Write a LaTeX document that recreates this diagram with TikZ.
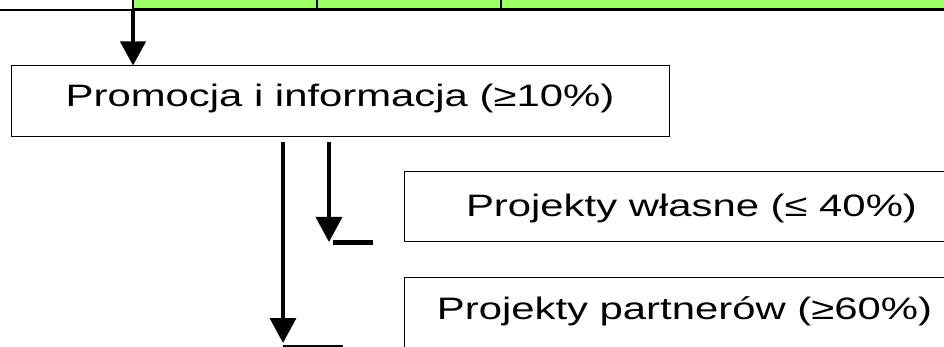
\documentclass[tikz,border=0pt]{standalone}
\usepackage{fontspec}
\setmainfont{Liberation Sans}[FakeStretch=1.35]
\usetikzlibrary{arrows.meta,positioning}
\definecolor{cellgreen}{HTML}{9CFF66}

\begin{document}
\begin{tikzpicture}[x=1pt, y=-1pt,
    box/.style={draw, line width=1pt, inner sep=0pt, font=\fontsize{31}{36}\selectfont},
    bigarrow/.style={line width=3.5pt, -{Triangle[length=25pt,width=26pt]}},
    bar/.style={line width=5pt}]
        \useasboundingbox (0,0) rectangle (944,347);
        \clip (0,0) rectangle (944,347);

        % 1. The top row (green cells)
        \foreach \name/\xa/\xb in {cellA/132/316, cellB/316/500, cellC/500/990}
            \node[draw, fill=cellgreen, line width=1.5pt, inner sep=0pt,
                  minimum width=\xb-\xa, minimum height=40, anchor=south west]
                  (\name) at (\xa,10) {};
        \draw[line width=2pt] (0,10) -- (944,10);

        % 2. The boxes
        \node[box, minimum width=658, minimum height=71, text height=25pt, text depth=14pt]
            (promo) at (340,101.5) {Promocja i informacja (≥10\%)};
        \node[box, minimum width=575, minimum height=70, text height=28pt, text depth=8pt]
            (own) at (691.5,207) {Projekty własne (≤ 40\%)};
        \node[box, minimum width=561, minimum height=70, text height=26pt, text depth=12pt]
            (partner) at (684.5,312) {Projekty partnerów (≥60\%)};

        % 3. Free ends of the arrows and bars
        \coordinate (top)  at (133,10);       % on the row line
        \coordinate (srcA) at (283,142);      % long arrow start
        \coordinate (srcB) at (329,142);      % short arrow start
        \coordinate (barA) at (333,243);      % bar beside "własne"
        \coordinate (barB) at (283,346);      % line under long arrow

        % 4. Draw the arrows
        \draw[line width=4pt, -{Triangle[length=24pt,width=25pt]}] (top) -- (top |- promo.north);
        \draw[bigarrow] (srcA) -- (283,343);
        \draw[bigarrow] (srcB) -- (329,242);

        % 5. Draw the bars
        \draw[bar] (barA) -- ++(40,0);
        \draw[line width=2pt] (barB) -- ++(60,0);

    \end{tikzpicture}
\end{document}
